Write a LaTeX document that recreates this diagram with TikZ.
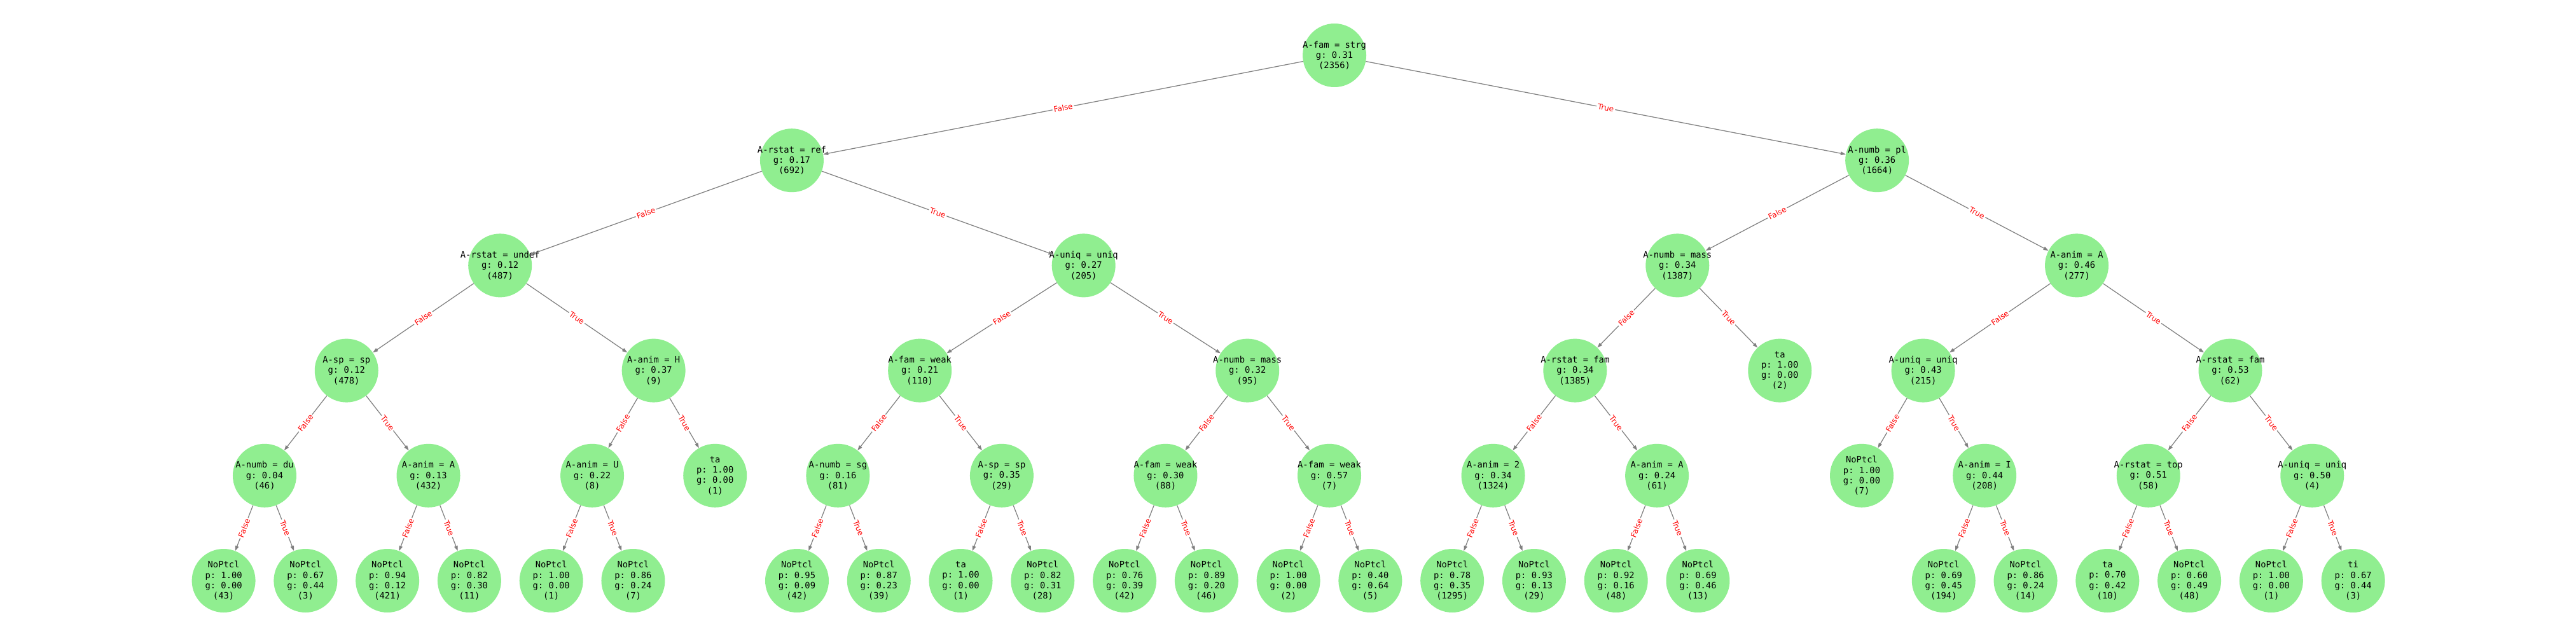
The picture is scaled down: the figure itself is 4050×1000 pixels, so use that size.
\documentclass[tikz,border=0pt]{standalone}
\usepackage{fontspec}
\setmonofont{DejaVu Sans Mono}
\newfontfamily\lblfont{DejaVu Sans}
\usetikzlibrary{arrows.meta}
\definecolor{nodegreen}{HTML}{90EE90}
\definecolor{edgegray}{HTML}{808080}
\newcommand\TreeNode[4]{%
  \node[tnode] (#1) at ({351.6+128.77*#2},{-87-165.2*#3}) {};
  \node[ttext] (#1-t) at (#1) {#4};}
\newcommand\TreeLeaf[7]{\TreeNode{#1}{#2}{#3}{#4\\p: #5\\g: #6\\(#7)}}
\newcommand\TreeEdge[3]{\draw[tedge] (#1) -- node[elabel]{#3} (#2);}
\begin{document}
\begin{tikzpicture}[x=1pt,y=1pt,
  tnode/.style={circle,fill=nodegreen,minimum size=100pt,inner sep=0pt},
  ttext/.style={align=center,font=\ttfamily\fontsize{13.8}{16.3}\selectfont,inner sep=0pt},
  tedge/.style={draw=edgegray,line width=1.25pt,-{Triangle[length=8pt,width=5.5pt]}},
  elabel/.style={midway,sloped,fill=white,text=red,font=\lblfont\fontsize{12}{14}\selectfont,inner sep=2pt}]
\useasboundingbox (0,0) rectangle (4050,-1000);
% level 0-1
\TreeNode{r}{13.5625}{0}{A-fam = strg\\g: 0.31\\(2356)}
\TreeNode{rF}{6.9375}{1}{A-rstat = ref\\g: 0.17\\(692)}
\TreeNode{rT}{20.1875}{1}{A-numb = pl\\g: 0.36\\(1664)}
% left subtree
\TreeNode{rFF}{3.375}{2}{A-rstat = undef\\g: 0.12\\(487)}
\TreeNode{rFFF}{1.5}{3}{A-sp = sp\\g: 0.12\\(478)}
\TreeNode{rFFFF}{0.5}{4}{A-numb = du\\g: 0.04\\(46)}
\TreeLeaf{rFFFFF}{0}{5}{NoPtcl}{1.00}{0.00}{43}
\TreeLeaf{rFFFFT}{1}{5}{NoPtcl}{0.67}{0.44}{3}
\TreeNode{rFFFT}{2.5}{4}{A-anim = A\\g: 0.13\\(432)}
\TreeLeaf{rFFFTF}{2}{5}{NoPtcl}{0.94}{0.12}{421}
\TreeLeaf{rFFFTT}{3}{5}{NoPtcl}{0.82}{0.30}{11}
\TreeNode{rFFT}{5.25}{3}{A-anim = H\\g: 0.37\\(9)}
\TreeNode{rFFTF}{4.5}{4}{A-anim = U\\g: 0.22\\(8)}
\TreeLeaf{rFFTFF}{4}{5}{NoPtcl}{1.00}{0.00}{1}
\TreeLeaf{rFFTFT}{5}{5}{NoPtcl}{0.86}{0.24}{7}
\TreeLeaf{rFFTT}{6}{4}{ta}{1.00}{0.00}{1}
\TreeNode{rFT}{10.5}{2}{A-uniq = uniq\\g: 0.27\\(205)}
\TreeNode{rFTF}{8.5}{3}{A-fam = weak\\g: 0.21\\(110)}
\TreeNode{rFTFF}{7.5}{4}{A-numb = sg\\g: 0.16\\(81)}
\TreeLeaf{rFTFFF}{7}{5}{NoPtcl}{0.95}{0.09}{42}
\TreeLeaf{rFTFFT}{8}{5}{NoPtcl}{0.87}{0.23}{39}
\TreeNode{rFTFT}{9.5}{4}{A-sp = sp\\g: 0.35\\(29)}
\TreeLeaf{rFTFTF}{9}{5}{ta}{1.00}{0.00}{1}
\TreeLeaf{rFTFTT}{10}{5}{NoPtcl}{0.82}{0.31}{28}
\TreeNode{rFTT}{12.5}{3}{A-numb = mass\\g: 0.32\\(95)}
\TreeNode{rFTTF}{11.5}{4}{A-fam = weak\\g: 0.30\\(88)}
\TreeLeaf{rFTTFF}{11}{5}{NoPtcl}{0.76}{0.39}{42}
\TreeLeaf{rFTTFT}{12}{5}{NoPtcl}{0.89}{0.20}{46}
\TreeNode{rFTTT}{13.5}{4}{A-fam = weak\\g: 0.57\\(7)}
\TreeLeaf{rFTTTF}{13}{5}{NoPtcl}{1.00}{0.00}{2}
\TreeLeaf{rFTTTT}{14}{5}{NoPtcl}{0.40}{0.64}{5}
% right subtree
\TreeNode{rTF}{17.75}{2}{A-numb = mass\\g: 0.34\\(1387)}
\TreeNode{rTFF}{16.5}{3}{A-rstat = fam\\g: 0.34\\(1385)}
\TreeNode{rTFFF}{15.5}{4}{A-anim = 2\\g: 0.34\\(1324)}
\TreeLeaf{rTFFFF}{15}{5}{NoPtcl}{0.78}{0.35}{1295}
\TreeLeaf{rTFFFT}{16}{5}{NoPtcl}{0.93}{0.13}{29}
\TreeNode{rTFFT}{17.5}{4}{A-anim = A\\g: 0.24\\(61)}
\TreeLeaf{rTFFTF}{17}{5}{NoPtcl}{0.92}{0.16}{48}
\TreeLeaf{rTFFTT}{18}{5}{NoPtcl}{0.69}{0.46}{13}
\TreeLeaf{rTFT}{19}{3}{ta}{1.00}{0.00}{2}
\TreeNode{rTT}{22.625}{2}{A-anim = A\\g: 0.46\\(277)}
\TreeNode{rTTF}{20.75}{3}{A-uniq = uniq\\g: 0.43\\(215)}
\TreeLeaf{rTTFF}{20}{4}{NoPtcl}{1.00}{0.00}{7}
\TreeNode{rTTFT}{21.5}{4}{A-anim = I\\g: 0.44\\(208)}
\TreeLeaf{rTTFTF}{21}{5}{NoPtcl}{0.69}{0.45}{194}
\TreeLeaf{rTTFTT}{22}{5}{NoPtcl}{0.86}{0.24}{14}
\TreeNode{rTTT}{24.5}{3}{A-rstat = fam\\g: 0.53\\(62)}
\TreeNode{rTTTF}{23.5}{4}{A-rstat = top\\g: 0.51\\(58)}
\TreeLeaf{rTTTFF}{23}{5}{ta}{0.70}{0.42}{10}
\TreeLeaf{rTTTFT}{24}{5}{NoPtcl}{0.60}{0.49}{48}
\TreeNode{rTTTT}{25.5}{4}{A-uniq = uniq\\g: 0.50\\(4)}
\TreeLeaf{rTTTTF}{25}{5}{NoPtcl}{1.00}{0.00}{1}
\TreeLeaf{rTTTTT}{26}{5}{ti}{0.67}{0.44}{3}
% edges
\TreeEdge{r}{rF}{False}
\TreeEdge{r}{rT}{True}
\TreeEdge{rF}{rFF}{False}
\TreeEdge{rF}{rFT}{True}
\TreeEdge{rFF}{rFFF}{False}
\TreeEdge{rFF}{rFFT}{True}
\TreeEdge{rFFF}{rFFFF}{False}
\TreeEdge{rFFF}{rFFFT}{True}
\TreeEdge{rFFFF}{rFFFFF}{False}
\TreeEdge{rFFFF}{rFFFFT}{True}
\TreeEdge{rFFFT}{rFFFTF}{False}
\TreeEdge{rFFFT}{rFFFTT}{True}
\TreeEdge{rFFT}{rFFTF}{False}
\TreeEdge{rFFT}{rFFTT}{True}
\TreeEdge{rFFTF}{rFFTFF}{False}
\TreeEdge{rFFTF}{rFFTFT}{True}
\TreeEdge{rFT}{rFTF}{False}
\TreeEdge{rFT}{rFTT}{True}
\TreeEdge{rFTF}{rFTFF}{False}
\TreeEdge{rFTF}{rFTFT}{True}
\TreeEdge{rFTFF}{rFTFFF}{False}
\TreeEdge{rFTFF}{rFTFFT}{True}
\TreeEdge{rFTFT}{rFTFTF}{False}
\TreeEdge{rFTFT}{rFTFTT}{True}
\TreeEdge{rFTT}{rFTTF}{False}
\TreeEdge{rFTT}{rFTTT}{True}
\TreeEdge{rFTTF}{rFTTFF}{False}
\TreeEdge{rFTTF}{rFTTFT}{True}
\TreeEdge{rFTTT}{rFTTTF}{False}
\TreeEdge{rFTTT}{rFTTTT}{True}
\TreeEdge{rT}{rTF}{False}
\TreeEdge{rT}{rTT}{True}
\TreeEdge{rTF}{rTFF}{False}
\TreeEdge{rTF}{rTFT}{True}
\TreeEdge{rTFF}{rTFFF}{False}
\TreeEdge{rTFF}{rTFFT}{True}
\TreeEdge{rTFFF}{rTFFFF}{False}
\TreeEdge{rTFFF}{rTFFFT}{True}
\TreeEdge{rTFFT}{rTFFTF}{False}
\TreeEdge{rTFFT}{rTFFTT}{True}
\TreeEdge{rTT}{rTTF}{False}
\TreeEdge{rTT}{rTTT}{True}
\TreeEdge{rTTF}{rTTFF}{False}
\TreeEdge{rTTF}{rTTFT}{True}
\TreeEdge{rTTFT}{rTTFTF}{False}
\TreeEdge{rTTFT}{rTTFTT}{True}
\TreeEdge{rTTT}{rTTTF}{False}
\TreeEdge{rTTT}{rTTTT}{True}
\TreeEdge{rTTTF}{rTTTFF}{False}
\TreeEdge{rTTTF}{rTTTFT}{True}
\TreeEdge{rTTTT}{rTTTTF}{False}
\TreeEdge{rTTTT}{rTTTTT}{True}
\end{tikzpicture}
\end{document}
